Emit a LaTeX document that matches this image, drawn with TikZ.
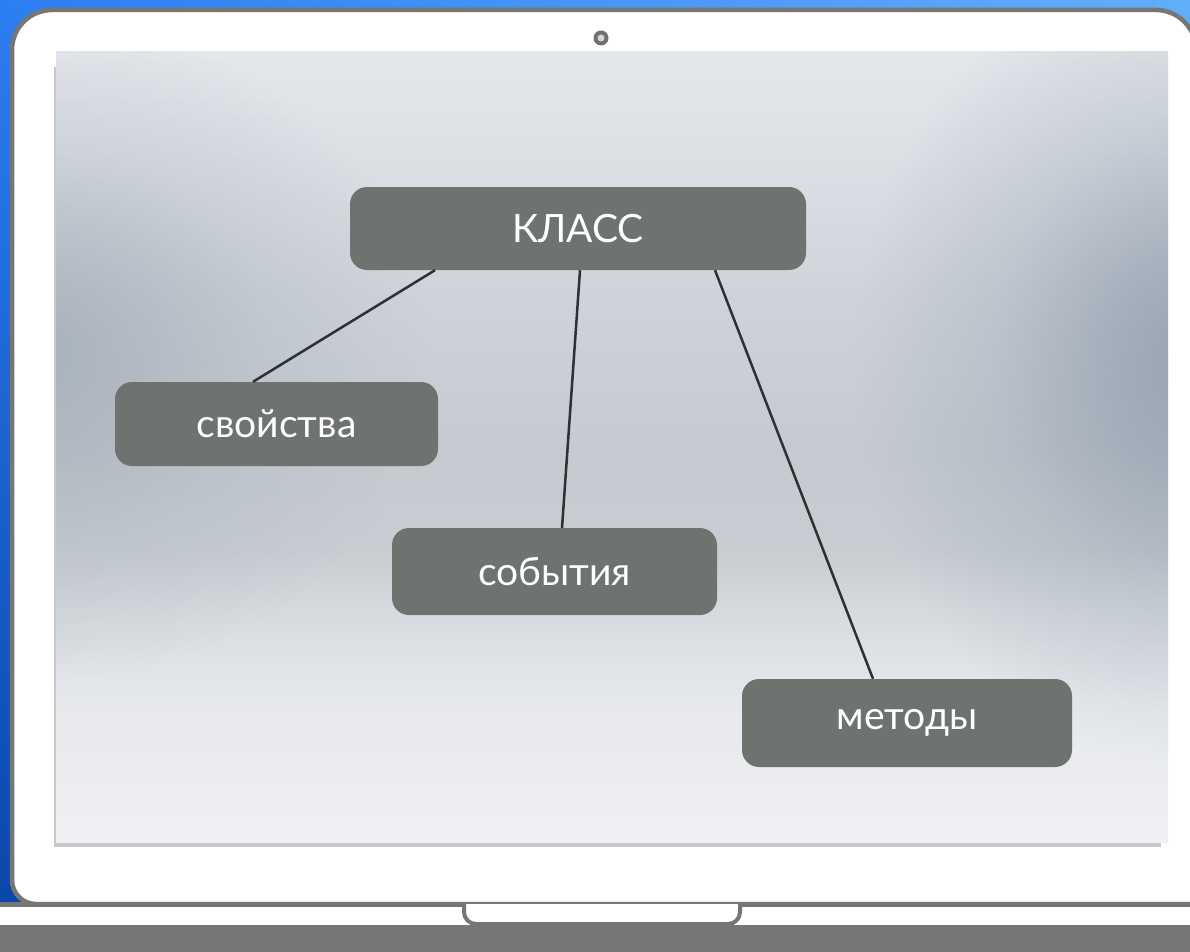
\documentclass[tikz,border=0pt]{standalone}
\usepackage{fontspec}
\setmainfont{Lato}
\usetikzlibrary{fadings,shadings}

\definecolor{deskTL}{HTML}{2C7EF2}
\definecolor{deskTR}{HTML}{63AEFA}
\definecolor{deskBL}{HTML}{0A47AA}
\definecolor{deskBR}{HTML}{1C64D8}
\definecolor{casegray}{HTML}{767676}
\definecolor{shadowgray}{HTML}{C8C8C8}
\definecolor{boxgray}{RGB}{110,115,112}
\definecolor{linkgray}{HTML}{2E3032}
\definecolor{edgeR}{HTML}{8E9CAC}
\definecolor{edgeL}{HTML}{A2ADB8}
\definecolor{scrA}{RGB}{238,240,243}
\definecolor{scrB}{RGB}{230,232,236}
\definecolor{scrC}{RGB}{216,220,224}
\definecolor{scrD}{RGB}{200,205,210}
\definecolor{scrE}{RGB}{197,202,208}
\definecolor{scrF}{RGB}{207,211,217}
\definecolor{scrG}{RGB}{221,224,229}
\definecolor{scrH}{RGB}{228,231,235}

% the path occupies the band 25bp..75bp of the shading
\pgfdeclareverticalshading{screenbg}{100bp}{%
  color(0bp)=(scrA); color(25bp)=(scrA); color(34bp)=(scrB);
  color(39bp)=(scrC); color(43.5bp)=(scrD); color(49.8bp)=(scrE);
  color(59.3bp)=(scrF); color(68.8bp)=(scrG); color(75bp)=(scrH);
  color(100bp)=(scrH)}

% soft radial spot: dense in the middle, clear at the rim (rim = 25bp)
\pgfdeclareradialshading{softspot}{\pgfpointorigin}{%
  color(0bp)=(transparent!15); color(7bp)=(transparent!40);
  color(15bp)=(transparent!75); color(25bp)=(transparent!100);
  color(50bp)=(transparent!100)}
\pgfdeclarefading{glow}{\pgfuseshading{softspot}}

\tikzset{
  frameline/.style={draw=casegray, line width=4.5pt, fill=white},
  boxnode/.style={fill=boxgray, rounded corners=17pt, inner sep=0pt,
    text=white, font=\fontsize{39}{45}\selectfont},
  link/.style={draw=linkgray, line width=2.5pt}
}

\begin{document}
\begin{tikzpicture}[x=1pt, y=-1pt]
\useasboundingbox (0,0) rectangle (1190,952);

% desktop behind the laptop
\shade[upper left=deskTL, upper right=deskTR, lower left=deskBL, lower right=deskBR]
  (0,0) rectangle (1190,906);

% laptop lid
\path[frameline] (1196,904) -- (36,904) arc[start angle=90, end angle=180, radius=24]
  -- (12,50) arc[start angle=180, end angle=270, radius=40]
  -- (1156,10) arc[start angle=270, end angle=360, radius=40] -- (1196,904);

% base of the laptop
\fill[white] (0,906) rectangle (1190,925);
\fill[casegray] (0,925) rectangle (1190,952);
\draw[casegray, line width=5pt] (0,904.5) -- (1190,904.5);
\draw[frameline, line width=4pt] (464,904) -- (464,912)
  arc[start angle=180, end angle=90, radius=12] -- (728,924)
  arc[start angle=90, end angle=0, radius=12] -- (740,904);

% camera
\fill[casegray!95!black] (601,38) circle[radius=7.5];
\fill[shadowgray!80!white] (601,38) circle[radius=3.5];

% screen
\fill[shadowgray] (54,67) rectangle (1161,847);
\shade[shading=screenbg] (56,52) rectangle (1168,842);
\begin{scope}
  \clip (56,52) rectangle (1168,842);
  \fill[edgeR, path fading=glow] (1195,360) ellipse[x radius=340, y radius=400];
  \fill[edgeL, path fading=glow] (30,350) ellipse[x radius=400, y radius=330];
\end{scope}

% diagram
\node[boxnode, minimum width=456pt, minimum height=83pt] (klass) at (578,228.5) {КЛАСС};
\node[boxnode, minimum width=323pt, minimum height=84pt] (props) at (276.5,424) {свойства};
\node[boxnode, minimum width=325pt, minimum height=87pt] (events) at (554.5,571.5) {события};
\node[boxnode, minimum width=330pt, minimum height=88pt] (methods) at (907,723) {методы};

\draw[link] ([xshift=-143pt]klass.south) -- ([xshift=-23.5pt]props.north);
\draw[link] ([xshift=2pt]klass.south) -- ([xshift=7.5pt]events.north);
\draw[link] ([xshift=137pt]klass.south) -- ([xshift=-34pt]methods.north);
\end{tikzpicture}
\end{document}
